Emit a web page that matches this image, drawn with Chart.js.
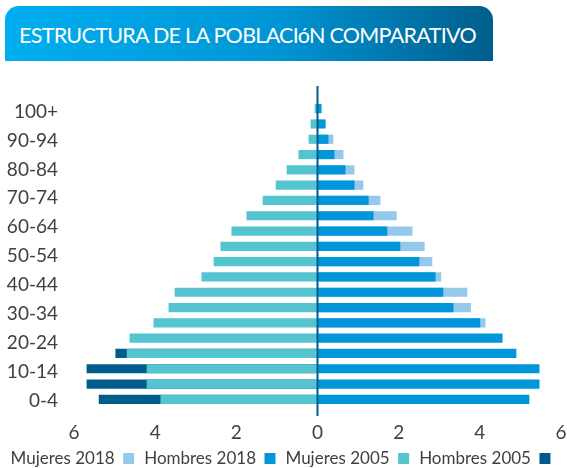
<!DOCTYPE html>
<html>
<head>
<meta charset="utf-8">
<script src="https://cdn.jsdelivr.net/npm/chart.js@4.4.1/dist/chart.umd.min.js"></script>
<style>
  html, body { margin: 0; padding: 0; background: #ffffff; }
  #wrap { position: relative; width: 567px; height: 468px; overflow: hidden; }
  #banner {
    position: absolute; left: 5px; top: 6px; width: 488px; height: 55px;
    border-radius: 14px 14px 0 0;
    background: linear-gradient(to right, #00AEEF 0%, #0096D6 55%, #005E8C 100%);
    color: #ffffff; font-family: Lato, sans-serif; font-size: 21.5px; letter-spacing: -0.7px;
    line-height: 58px; padding-left: 14px; box-sizing: border-box; white-space: nowrap;
  }
  canvas { position: absolute; left: 0; top: 0; }
</style>
</head>
<body>
<div id="wrap">
  <canvas id="c" width="567" height="468"></canvas>
  <div id="banner">ESTRUCTURA DE LA POBLACIóN COMPARATIVO</div>
</div>
<script>
// Age groups, bottom (youngest) to top
const ageGroups = ['0-4','5-9','10-14','15-19','20-24','25-29','30-34','35-39','40-44','45-49',
                   '50-54','55-59','60-64','65-69','70-74','75-79','80-84','85-89','90-94','95+'];
// Tick labels shown on the vertical axis, bottom to top
const yTickLabels = ['0-4','10-14','20-24','30-34','40-44','50-54','60-64','70-74','80-84','90-94','100+'];
// X axis tick values
const xTickValues = [-6,-4,-2,0,2,4,6];

// Series values (bottom to top); left side drawn as negative values.
// null = hidden behind the other series of the same side in the picture (not readable)
const mujeres2018 = [null,null,null,null,null,4.14,3.78,3.69,3.05,2.83,2.64,2.34,1.95,1.55,1.13,0.91,0.64,0.39,null,null];
const hombres2018 = [5.22,5.47,5.47,4.90,4.56,4.01,3.35,3.10,2.91,2.51,2.04,1.72,1.38,1.26,0.91,0.69,0.42,0.27,0.20,0.10];
const mujeres2005 = [-3.87,-4.21,-4.21,-4.70,-4.63,-4.04,-3.67,-3.52,-2.86,-2.56,-2.39,-2.12,-1.75,-1.35,-1.03,-0.76,-0.47,-0.22,-0.17,-0.07];
const hombres2005 = [-5.39,-5.69,-5.69,-4.98,null,null,null,null,null,null,null,null,null,null,null,null,null,null,null,null];

Chart.defaults.font.family = 'Lato, sans-serif';
Chart.defaults.color = '#404040';

const zeroLine = {
  id: 'zeroLine',
  afterDatasetsDraw(chart) {
    const ctx = chart.ctx, a = chart.chartArea;
    const x = chart.scales.x.getPixelForValue(0);
    ctx.save();
    ctx.strokeStyle = '#005C8C';
    ctx.lineWidth = 2;
    ctx.beginPath();
    ctx.moveTo(x, a.top - 15);
    ctx.lineTo(x, a.bottom + 9);
    ctx.stroke();
    ctx.restore();
  }
};

const common = { grouped: false, barPercentage: 0.6, categoryPercentage: 1, borderWidth: 0 };

new Chart(document.getElementById('c'), {
  type: 'bar',
  data: {
    labels: ageGroups,
    datasets: [
      Object.assign({ label: 'Mujeres 2018', data: mujeres2018, backgroundColor: '#94C9EC', order: 2 }, common),
      Object.assign({ label: 'Hombres 2018', data: hombres2018, backgroundColor: '#0096D9', order: 1 }, common),
      Object.assign({ label: 'Mujeres 2005', data: mujeres2005, backgroundColor: '#54C4D0', order: 1 }, common),
      Object.assign({ label: 'Hombres 2005', data: hombres2005, backgroundColor: '#005C8C', order: 2 }, common)
    ]
  },
  options: {
    indexAxis: 'y',
    responsive: false,
    animation: false,
    layout: { padding: { top: 101, right: 6, left: 0, bottom: -9 } },
    scales: {
      x: {
        min: -6, max: 6,
        afterBuildTicks(axis) { axis.ticks = xTickValues.map(v => ({ value: v })); },
        afterFit(axis) { axis.paddingLeft = 0; axis.paddingRight = 0; axis.height = 33; },
        ticks: { callback: v => Math.abs(v), font: { size: 19 }, color: '#404040', padding: 14 },
        grid: { display: false, drawTicks: false },
        border: { display: false }
      },
      y: {
        display: false,
        reverse: true,
        grid: { display: false }
      },
      yl: {
        type: 'linear',
        position: 'left',
        offset: false,
        min: -0.225, max: 10.369,
        afterBuildTicks(axis) { axis.ticks = yTickLabels.map((_, i) => ({ value: i })); },
        afterFit(axis) { axis.width = 74; axis.paddingTop = 0; axis.paddingBottom = 0; },
        ticks: { callback: v => yTickLabels[v], font: { size: 19 }, color: '#404040', padding: 16, autoSkip: false },
        grid: { display: false, drawTicks: false, offset: false },
        border: { display: false }
      }
    },
    plugins: {
      legend: {
        position: 'bottom',
        rtl: true,
        textDirection: 'ltr',
        reverse: true,
        labels: {
          boxWidth: 11, boxHeight: 11, font: { size: 17 }, color: '#404040', padding: 10,
          sort: (a, b) => a.datasetIndex - b.datasetIndex
        }
      },
      tooltip: { enabled: true }
    }
  },
  plugins: [zeroLine]
});
</script>
</body>
</html>
